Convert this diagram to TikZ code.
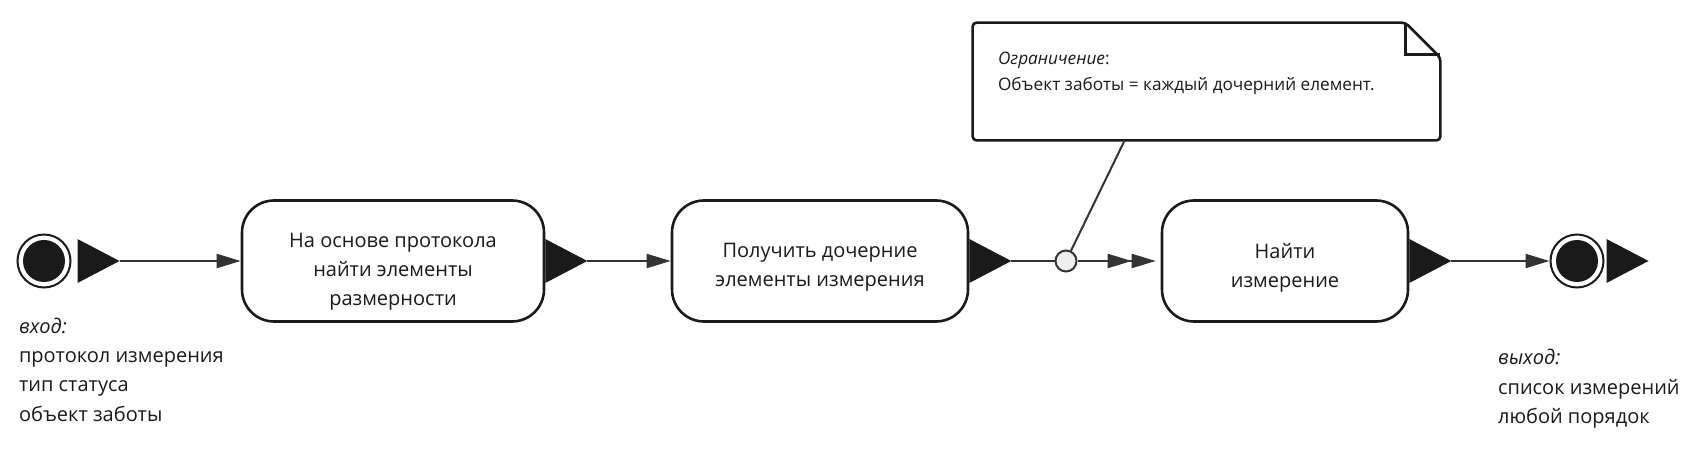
\documentclass[tikz,border=0pt]{standalone}
\usepackage{fontspec}
\setmainfont{Open Sans}
\usetikzlibrary{calc,positioning,arrows.meta}
\definecolor{ink}{HTML}{1A1A1A}
\definecolor{wire}{HTML}{333333}
\definecolor{dotfill}{HTML}{EEEEEE}

\begin{document}
\begin{tikzpicture}[x=0.5pt,y=-0.5pt]
\tikzstyle{action}=[rectangle, rounded corners=16pt, draw=ink, line width=1.3pt, fill=white, minimum height=60.5pt]
\tikzstyle{actiontext}=[align=center, text=ink, font=\fontsize{10}{14.5}\selectfont]
\tikzstyle{flow}=[draw=wire, line width=1pt, -{Triangle[length=12pt,width=7pt]}]
\tikzstyle{state}=[circle, draw=ink, line width=1pt, minimum size=26.5pt, inner sep=0pt]
\tikzstyle{label}=[anchor=west, align=left, text=ink, font=\fontsize{10}{14.7}\selectfont]
\useasboundingbox (0,0) rectangle (1707,459);
% initial and final states
\node (S) [state] at (44,261) {};
\node (E) [state] at (1577,261) {};
\fill[ink] (S) circle (10.5pt);
\fill[ink] (E) circle (10.5pt);
% actions
\node (A1) [action, minimum width=151pt] at (393,261) {};
\node (A2) [action, minimum width=148pt] at (820,261) {};
\node (A3) [action, minimum width=123pt] at (1285,261) {};
\node (A1t) [actiontext] at ($(A1)+(0,11)$) {На основе протокола\\найти элементы\\размерности};
\node (A2t) [actiontext] at ($(A2)+(0,6.5)$) {Получить дочерние\\элементы измерения};
\node (A3t) [actiontext] at ($(A3)+(0,6.5)$) {Найти\\измерение};
% output pins
\foreach \n/\d in {S/6,A1/0,A2/0,A3/0,E/2}{
  \fill[ink] ($(\n.east)+(\d,-22)$) -- ++(42,22) -- ++(-42,22) -- cycle;
  \coordinate (\n-out) at ($(\n.east)+(\d,0)+(42,0)$);
}
% note
\node (note) [minimum width=233.5pt, minimum height=58.5pt, inner sep=0pt] at (1206.5,81.5) {};
\draw[ink, line width=1.3pt, rounded corners=2pt, fill=white] (note.north west) -- ([xshift=-17.5pt]note.north east) -- ([yshift=-17.5pt]note.north east) -- (note.south east) -- (note.south west) -- cycle;
\draw[ink, line width=1.3pt] ([xshift=-17.5pt]note.north east) |- ([yshift=-16pt]note.north east);
\node (ntext) [label, font=\fontsize{8.6}{13}\selectfont] at (991,73) {\textit{Ограничение}:\\Объект заботы = каждый дочерний елемент.};
% junction
\node (J) [circle, draw=wire, fill=dotfill, line width=1pt, minimum size=10.5pt, inner sep=0pt] at (1066,261) {};
\draw[wire, line width=1pt] ($(note.south west)!0.325!(note.south east)$) -- (J);
% flows
\foreach \i/\j in {S-out/A1,A1-out/A2,A3-out/E}{\draw[flow] (\i) -- (\j);}
\draw[draw=wire, line width=1pt] (A2-out) -- (J);
\draw[draw=wire, line width=1pt, -{Triangle[length=12pt,width=7pt] Triangle[length=12pt,width=7pt,sep=2.5pt]}] (J) -- (A3);
% parameters
\node (in) [label] at (12,369.5) {\textit{вход:}\\протокол измерения\\тип статуса\\объект заботы};
\node (out) [label] at (1491,389) {\textit{выход:}\\список измерений\\любой порядок};
\end{tikzpicture}
\end{document}
